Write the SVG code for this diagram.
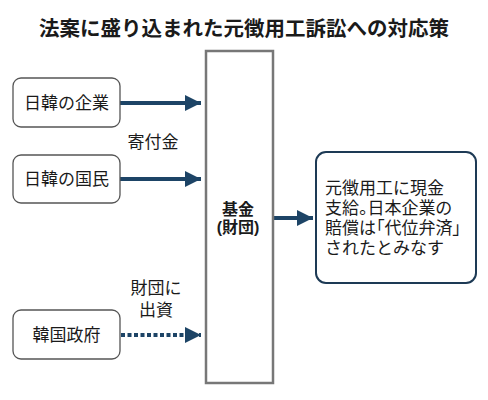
<svg xmlns="http://www.w3.org/2000/svg" width="488" height="400" viewBox="0 0 488 400">
<defs>
<style>
text{font-family:"Noto Sans CJK JP","Noto Sans CJK SC",sans-serif;fill:#1a1a1a}
.t{font-size:20.5px;font-weight:bold;text-anchor:middle}
.n{font-size:17px;text-anchor:middle}
.m{font-size:17px;text-anchor:middle;font-family:"Liberation Sans","Noto Sans CJK JP",sans-serif}
.b{font-size:16px;font-weight:bold;text-anchor:middle;font-family:"Liberation Sans","Noto Sans CJK JP",sans-serif}
.r{font-size:17px;font-family:"Liberation Sans","Noto Sans CJK JP",sans-serif}
.box{fill:#fff;stroke:#555;stroke-width:1.3}
.line{stroke:#1d4466;stroke-width:4;fill:none}
</style>
<marker id="ah" viewBox="0 0 10 10" refX="10" refY="5" markerWidth="4" markerHeight="4.5" orient="auto" markerUnits="strokeWidth">
<path d="M0,0 L10,5 L0,10 z" fill="#1d4466"/>
</marker>
</defs>
<rect width="488" height="400" fill="#fff"/>
<text class="t" x="244" y="36">法案に盛り込まれた元徴用工訴訟への対応策</text>
<g id="connectors">
<line class="line" x1="120" y1="103" x2="201" y2="103" marker-end="url(#ah)"/>
<line class="line" x1="120" y1="179" x2="201" y2="179" marker-end="url(#ah)"/>
<line class="line" x1="121" y1="335" x2="201" y2="335" stroke-dasharray="4,2.5" marker-end="url(#ah)"/>
<line class="line" x1="273" y1="218" x2="313" y2="218" marker-end="url(#ah)"/>
<text class="n" x="153" y="148">寄付金</text>
<text class="m" x="156" y="294">財団に</text>
<text class="m" x="156" y="316">出資</text>
</g>
<g id="n1"><rect class="box" x="13" y="78" width="107" height="49" rx="8"/><text class="n" x="66.5" y="109">日韓の企業</text></g>
<g id="n2"><rect class="box" x="13" y="155" width="107" height="48" rx="8"/><text class="n" x="66.5" y="185">日韓の国民</text></g>
<g id="n3"><rect class="box" x="13" y="310" width="107" height="49" rx="8"/><text class="n" x="66.5" y="341">韓国政府</text></g>
<g id="fund"><rect x="206" y="51" width="67" height="332" fill="#fff" stroke="#777" stroke-width="2.5"/>
<text class="b" x="238" y="214.5">基金</text><text class="b" x="238" y="232.5">(財団)</text></g>
<g id="result"><rect x="316" y="152" width="160" height="131" rx="10" fill="#fff" stroke="#1d3a55" stroke-width="2"/>
<text class="r" x="325" y="194">元徴用工に現金</text>
<text class="r" x="325" y="214" style="font-feature-settings:'palt'">支給。日本企業の</text>
<text class="r" x="325" y="234" style="font-feature-settings:'palt'">賠償は「代位弁済」</text>
<text class="r" x="325" y="254">されたとみなす</text></g>
</svg>
